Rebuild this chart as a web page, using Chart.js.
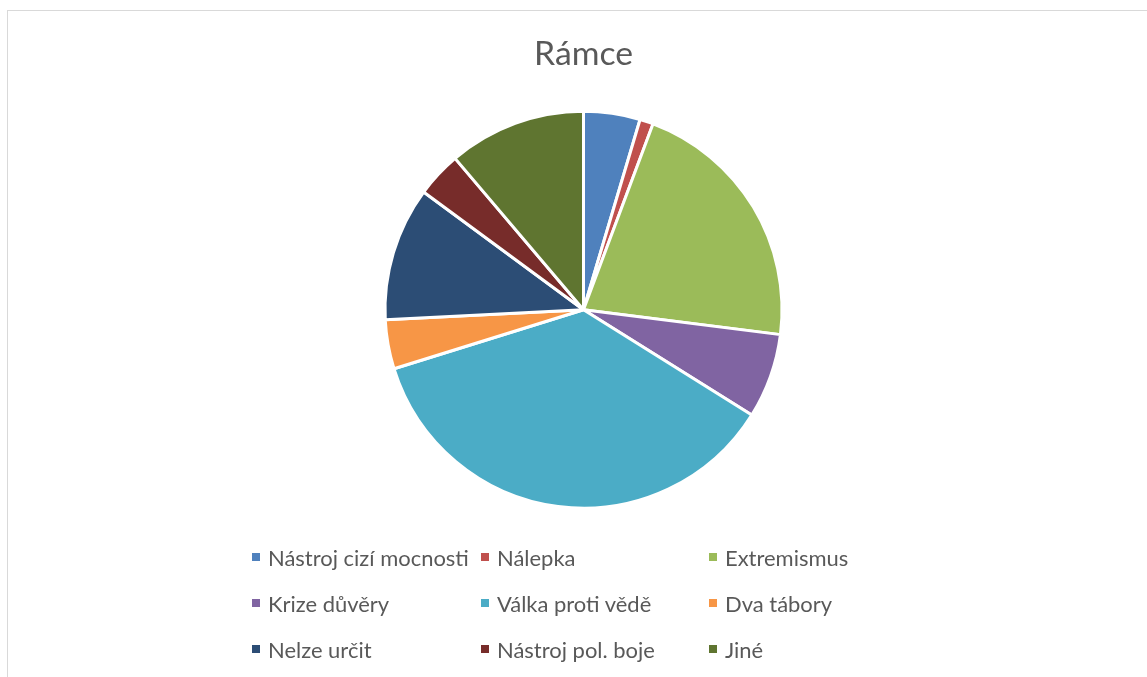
<!DOCTYPE html>
<html>
<head>
<meta charset="utf-8">
<script src="https://cdn.jsdelivr.net/npm/chart.js@4/dist/chart.umd.min.js"></script>
<style>
  html, body { margin: 0; padding: 0; background: #ffffff; }
  body { width: 1147px; height: 677px; position: relative; overflow: hidden; font-family: Lato, "Open Sans", sans-serif; }
  #frame { position: absolute; left: 7px; top: 10px; width: 1300px; height: 800px; border-left: 1px solid #d9d9d9; border-top: 1px solid #d9d9d9; }
  #wrap { position: absolute; left: 0; top: 0; width: 1147px; height: 677px; }
  #legend { position: absolute; left: 0; top: 0; width: 1147px; height: 677px; pointer-events: none; }
  .item { position: absolute; display: flex; align-items: center; color: #595959; white-space: nowrap; }
  .box { width: 8px; height: 8px; margin-right: 8px; flex: none; }
</style>
</head>
<body>
<div id="frame"></div>
<div id="wrap"><canvas id="c" width="1147" height="677"></canvas></div>
<div id="legend"></div>
<script>
const chartTitle = "Rámce";
const categories = [
  "Nástroj cizí mocnosti", "Nálepka", "Extremismus",
  "Krize důvěry", "Válka proti vědě", "Dva tábory",
  "Nelze určit", "Nástroj pol. boje", "Jiné"
];
const shares = [4.6, 1.1, 21.3, 6.9, 36.3, 4.0, 10.9, 3.7, 11.2];
const colors = [
  "#4F81BD", "#C0504D", "#9BBB59",
  "#8064A2", "#4BACC6", "#F79646",
  "#2C4D75", "#772C2A", "#5F7530"
];

function fitSize(text, family, target, base) {
  const ctx = document.createElement('canvas').getContext('2d');
  ctx.font = base + 'px ' + family;
  return base * target / ctx.measureText(text).width;
}
const fam = 'Lato';
const titleSize = fitSize(chartTitle, fam, 99, 40);
const legendSize = fitSize(categories[0], fam, 201, 24);

// HTML legend (3 columns)
const colX = [252, 481, 709];
const rowY = [557, 603, 649];
const legendEl = document.getElementById('legend');
categories.forEach((name, i) => {
  const it = document.createElement('div');
  it.className = 'item';
  it.style.left = colX[i % 3] + 'px';
  it.style.top = (rowY[Math.floor(i / 3)] - 15) + 'px';
  it.style.height = '30px';
  it.style.fontSize = legendSize + 'px';
  it.style.fontFamily = fam;
  const b = document.createElement('span');
  b.className = 'box';
  b.style.background = colors[i];
  const t = document.createElement('span');
  t.textContent = name;
  it.appendChild(b); it.appendChild(t);
  legendEl.appendChild(it);
});

new Chart(document.getElementById('c'), {
  type: 'pie',
  data: {
    labels: categories,
    datasets: [{
      data: shares,
      backgroundColor: colors,
      borderColor: '#ffffff',
      borderWidth: 3,
      radius: 198.5
    }]
  },
  options: {
    responsive: false,
    animation: false,
    layout: { padding: { top: 34, left: 20, right: 0, bottom: 132 } },
    plugins: {
      legend: { display: false },
      tooltip: { enabled: false },
      title: {
        display: true,
        text: chartTitle,
        color: '#595959',
        font: { family: fam, size: titleSize, weight: 'normal', lineHeight: 1.2 },
        padding: { top: 0, bottom: 0 }
      }
    }
  }
});
</script>
</body>
</html>
